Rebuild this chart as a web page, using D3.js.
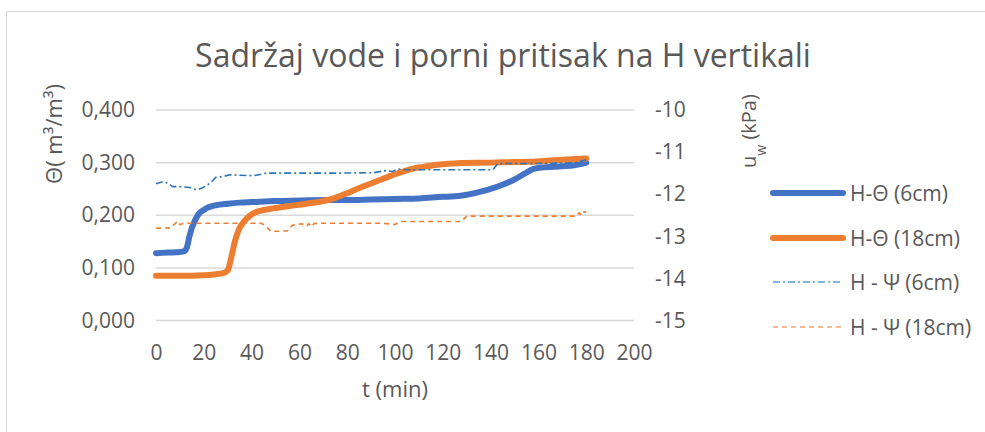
<!DOCTYPE html>
<html>
<head>
<meta charset="utf-8">
<script src="https://cdn.jsdelivr.net/npm/d3@7"></script>
<style>
  body { margin: 0; background: #fff; }
  text { font-family: "Open Sans", sans-serif; fill: #595959; }
</style>
</head>
<body>
<div id="chart"></div>
<script>
// time axis (min)
const xTicks = [0, 20, 40, 60, 80, 100, 120, 140, 160, 180, 200];
const yLeftTicks = [0, 0.1, 0.2, 0.3, 0.4];
const yRightTicks = [-15, -14, -13, -12, -11, -10];

// H-Θ (6cm), m3/m3
const t6 = [0, 5, 10, 12, 13, 14, 15, 16, 17, 18, 20, 22, 25, 30, 35, 40, 50, 60, 70, 80, 90, 100, 110, 120, 125, 130, 135, 140, 145, 150, 155, 158, 162, 170, 175, 180];
const theta6 = [0.128, 0.129, 0.130, 0.132, 0.140, 0.160, 0.176, 0.187, 0.196, 0.203, 0.210, 0.215, 0.219, 0.222, 0.224, 0.225, 0.227, 0.228, 0.229, 0.229, 0.230, 0.231, 0.232, 0.235, 0.236, 0.239, 0.244, 0.250, 0.258, 0.268, 0.281, 0.288, 0.291, 0.293, 0.295, 0.300];

// H-Θ (18cm)
const t18 = [0, 10, 20, 25, 28, 30, 31, 32, 33, 34, 35, 36.5, 38, 40.5, 44, 49, 55, 63, 70, 75, 80, 84, 88, 92, 96, 100, 104, 108, 112, 116, 120, 128, 140, 150, 157, 165, 172, 180];
const theta18 = [0.085, 0.085, 0.086, 0.088, 0.090, 0.095, 0.110, 0.130, 0.150, 0.165, 0.176, 0.186, 0.194, 0.203, 0.209, 0.213, 0.217, 0.222, 0.227, 0.233, 0.242, 0.250, 0.257, 0.264, 0.271, 0.278, 0.284, 0.289, 0.292, 0.295, 0.297, 0.2995, 0.300, 0.301, 0.3015, 0.304, 0.306, 0.308];

// H - Ψ (6cm), kPa
const tPsi6 = [0, 3, 5, 7, 10, 14, 17, 19, 21, 23, 25, 28, 31, 35, 39, 42, 46, 60, 75, 91, 96, 99, 101, 105, 120, 141, 143, 150, 160, 170, 176, 178, 180];
const psi6 = [-11.75, -11.70, -11.74, -11.82, -11.82, -11.84, -11.90, -11.86, -11.80, -11.72, -11.60, -11.58, -11.54, -11.55, -11.56, -11.55, -11.50, -11.50, -11.50, -11.49, -11.44, -11.46, -11.40, -11.42, -11.42, -11.42, -11.27, -11.27, -11.27, -11.26, -11.25, -11.21, -11.18];

// H - Ψ (18cm)
const tPsi18 = [0, 6, 8, 9, 10, 12, 20, 30, 44, 46, 48, 52, 55, 57, 59, 61, 63, 64, 65, 66, 68, 80, 95, 98, 100, 102, 115, 128, 129, 130, 150, 176, 177, 178, 179, 180];
const psi18 = [-12.81, -12.80, -12.70, -12.64, -12.72, -12.69, -12.69, -12.69, -12.69, -12.75, -12.88, -12.88, -12.87, -12.74, -12.72, -12.70, -12.76, -12.70, -12.77, -12.70, -12.69, -12.69, -12.69, -12.71, -12.72, -12.65, -12.65, -12.65, -12.58, -12.52, -12.52, -12.52, -12.44, -12.50, -12.42, -12.42];

const W = 985, H = 432;
const svg = d3.select("#chart").append("svg")
    .attr("width", W)
    .attr("height", H);

// chart border
svg.append("rect")
    .attr("x", 6.5).attr("y", 11.5)
    .attr("width", W + 10).attr("height", H + 10)
    .attr("fill", "none")
    .attr("stroke", "#d9d9d9");

const x = d3.scaleLinear().domain([0, 200]).range([156, 634]);
const yL = d3.scaleLinear().domain([0, 0.4]).range([320.5, 110]);
const yR = d3.scaleLinear().domain([-15, -10]).range([320.5, 110]);

// gridlines
svg.append("g")
    .selectAll("line")
    .data(yLeftTicks)
    .enter().append("line")
    .attr("x1", x(0)).attr("x2", x(200))
    .attr("y1", d => yL(d)).attr("y2", d => yL(d))
    .attr("stroke", "#d9d9d9")
    .attr("stroke-width", 1.5);

// axes (labels only)
const fmt = d => d3.format(".3f")(d).replace(".", ",");
const axL = svg.append("g")
    .attr("transform", `translate(${x(0)},0)`)
    .call(d3.axisLeft(yL).tickValues(yLeftTicks).tickFormat(fmt).tickSize(0).tickPadding(21));
const axR = svg.append("g")
    .attr("transform", `translate(${x(200)},0)`)
    .call(d3.axisRight(yR).tickValues(yRightTicks).tickFormat(d => d).tickSize(0).tickPadding(21));
const axB = svg.append("g")
    .attr("transform", `translate(0,${yL(0)})`)
    .call(d3.axisBottom(x).tickValues(xTicks).tickSize(0).tickPadding(25));

[axL, axR, axB].forEach(g => {
    g.select(".domain").remove();
    g.selectAll("text")
        .style("font-family", "'Open Sans', sans-serif")
        .style("font-size", "21px")
        .attr("fill", "#595959");
});
axR.selectAll("text").style("text-anchor", "start");

// lines
const lineL = d3.line().x(d => x(d[0])).y(d => yL(d[1])).curve(d3.curveMonotoneX);
const lineR = d3.line().x(d => x(d[0])).y(d => yR(d[1]));

const series = [
    { name: "H-Θ (6cm)", t: t6, v: theta6, axis: "L", color: "#4472C4", width: 6, dash: null },
    { name: "H-Θ (18cm)", t: t18, v: theta18, axis: "L", color: "#ED7D31", width: 6, dash: null },
    { name: "H - Ψ (6cm)", t: tPsi6, v: psi6, axis: "R", color: "#2E75B6", width: 1.6, dash: "7,3,2,3" },
    { name: "H - Ψ (18cm)", t: tPsi18, v: psi18, axis: "R", color: "#ED7D31", width: 1.6, dash: "5,4" }
];

series.forEach(s => {
    const pts = s.t.map((t, i) => [t, s.v[i]]);
    svg.append("path")
        .datum(pts)
        .attr("fill", "none")
        .attr("stroke", s.color)
        .attr("stroke-width", s.width)
        .attr("stroke-linecap", s.dash ? "butt" : "round")
        .attr("stroke-linejoin", "round")
        .attr("stroke-dasharray", s.dash)
        .attr("d", s.axis === "L" ? lineL(pts) : lineR(pts));
});

// title
svg.append("text")
    .attr("x", 503)
    .attr("y", 67)
    .attr("text-anchor", "middle")
    .style("font-size", "32px")
    .text("Sadržaj vode i porni pritisak na H vertikali");

// axis titles
svg.append("text")
    .attr("transform", "translate(62,134) rotate(-90)")
    .attr("text-anchor", "middle")
    .style("font-size", "22px")
    .text("Θ( m³/m³)");

const rt = svg.append("text")
    .attr("transform", "translate(756,131) rotate(-90)")
    .attr("text-anchor", "middle")
    .style("font-size", "20px");
rt.append("tspan").text("u");
rt.append("tspan").attr("baseline-shift", "sub").style("font-size", "14px").text("w");
rt.append("tspan").text(" (kPa)");

svg.append("text")
    .attr("x", 395)
    .attr("y", 397)
    .attr("text-anchor", "middle")
    .style("font-size", "22px")
    .text("t (min)");

// legend
const legendY = [193, 238, 282, 327];
const legend = svg.append("g");
series.forEach((s, i) => {
    legend.append("line")
        .attr("x1", 773).attr("x2", 843)
        .attr("y1", legendY[i]).attr("y2", legendY[i])
        .attr("stroke", s.dash ? (i === 2 ? "#5B9BD5" : "#F4A572") : s.color)
        .attr("stroke-width", s.dash ? 1.6 : 6)
        .attr("stroke-linecap", s.dash ? "butt" : "round")
        .attr("stroke-dasharray", s.dash);
    legend.append("text")
        .attr("x", 850)
        .attr("y", legendY[i] + 7.5)
        .style("font-size", "21px")
        .text(s.name);
});
</script>
</body>
</html>
